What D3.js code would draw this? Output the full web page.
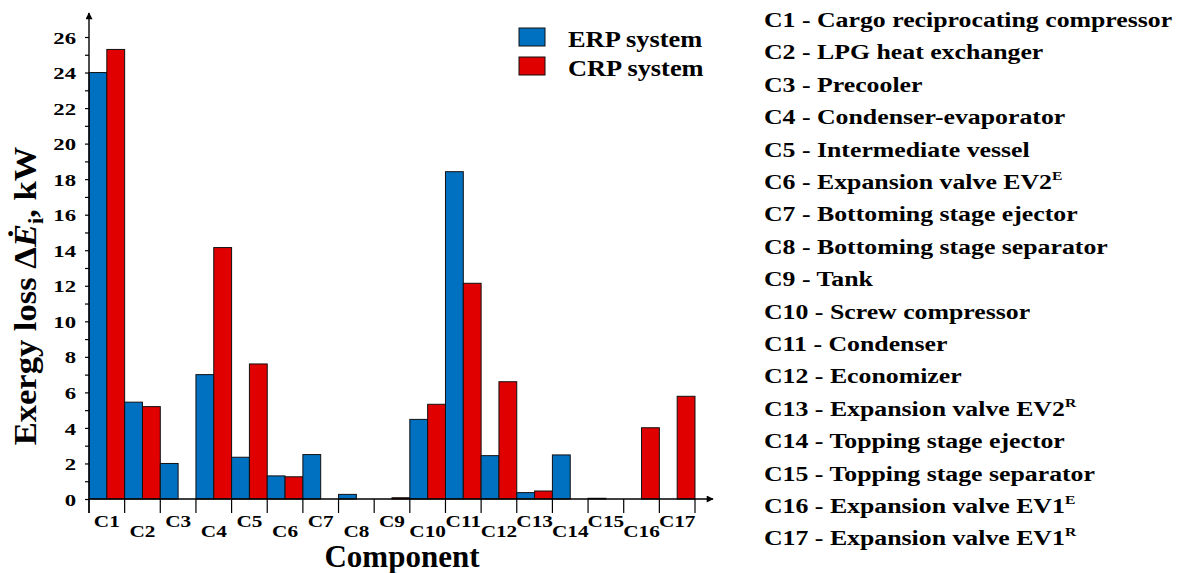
<!DOCTYPE html>
<html>
<head>
<meta charset="utf-8">
<script src="https://cdn.jsdelivr.net/npm/d3@7"></script>
<style>
  body { margin: 0; background: #fff; }
  text { font-family: "Liberation Serif", "Times New Roman", serif; font-weight: bold; fill: #000; }
</style>
</head>
<body>
<svg id="chart" width="1186" height="573"></svg>
<script>
// data
const categories = ["C1","C2","C3","C4","C5","C6","C7","C8","C9","C10","C11","C12","C13","C14","C15","C16","C17"];
const erpValues = [24.0, 5.45, 2.0, 7.0, 2.35, 1.3, 2.5, 0.26, 0, 4.48, 18.42, 2.44, 0.36, 2.48, 0.04, 0, 0];
const crpValues = [25.3, 5.2, 0, 14.15, 7.6, 1.25, 0, 0, 0.07, 5.33, 12.14, 6.6, 0.45, 0, 0, 4.01, 5.78];
const seriesNames = ["ERP system", "CRP system"];
const seriesColors = ["#0070c0", "#e00000"];
const yTickValues = d3.range(0, 27, 1);
// "^" marks a superscript
const componentNames = [
  "Cargo reciprocating compressor",
  "LPG heat exchanger",
  "Precooler",
  "Condenser-evaporator",
  "Intermediate vessel",
  "Expansion valve EV2^E",
  "Bottoming stage ejector",
  "Bottoming stage separator",
  "Tank",
  "Screw compressor",
  "Condenser",
  "Economizer",
  "Expansion valve EV2^R",
  "Topping stage ejector",
  "Topping stage separator",
  "Expansion valve EV1^E",
  "Expansion valve EV1^R"
];

const svg = d3.select("#chart");

const x = d3.scaleBand().domain(categories).range([89, 695]).padding(0);
const xs = d3.scaleBand().domain(seriesNames).range([0, x.bandwidth()]).padding(0);
const y = d3.scaleLinear().domain([0, 26]).range([499, 37]);

const data = categories.map((c, i) => ({
  cat: c,
  vals: [
    { s: seriesNames[0], v: erpValues[i] },
    { s: seriesNames[1], v: crpValues[i] }
  ]
}));

// arrow heads
svg.append("defs").append("marker")
    .attr("id", "arrow")
    .attr("viewBox", "0 0 10 10")
    .attr("refX", 9).attr("refY", 5)
    .attr("markerWidth", 10).attr("markerHeight", 7)
    .attr("markerUnits", "userSpaceOnUse")
    .attr("orient", "auto")
  .append("path")
    .attr("d", "M0,0 L10,5 L0,10 z")
    .attr("fill", "#000");

// bars
const groups = svg.append("g").selectAll("g")
  .data(data)
  .join("g")
    .attr("transform", d => "translate(" + x(d.cat) + ",0)");

groups.selectAll("rect")
  .data(d => d.vals)
  .join("rect")
    .attr("x", d => xs(d.s))
    .attr("y", d => y(d.v))
    .attr("width", xs.bandwidth())
    .attr("height", d => y(0) - y(d.v))
    .attr("fill", (d, i) => seriesColors[i])
    .attr("stroke", "#111")
    .attr("stroke-width", 1);

// y axis
const yAxis = d3.axisLeft(y)
  .tickValues(yTickValues)
  .tickSize(4)
  .tickFormat(d => d % 2 === 0 ? d : "");

const gy = svg.append("g")
    .attr("transform", "translate(" + x.range()[0] + ",0)")
    .call(yAxis);
gy.attr("font-family", null).attr("font-size", null);
gy.select(".domain").remove();
gy.selectAll(".tick line").attr("stroke", "#000").attr("stroke-width", 1.2);
gy.selectAll(".tick text")
    .attr("x", null)
    .attr("dy", "0.35em")
    .attr("transform", "translate(-13,0) scale(1.3,1)")
    .style("font-size", "17.5px");

// axis lines
svg.append("line")
    .attr("x1", x.range()[0]).attr("x2", x.range()[0])
    .attr("y1", y(0) + 14).attr("y2", 13)
    .attr("stroke", "#000").attr("stroke-width", 1.4)
    .attr("marker-end", "url(#arrow)");
svg.append("line")
    .attr("x1", x.range()[0]).attr("x2", 713)
    .attr("y1", y(0)).attr("y2", y(0))
    .attr("stroke", "#000").attr("stroke-width", 1.4)
    .attr("marker-end", "url(#arrow)");

// category boundary ticks
const bounds = categories.map(c => x(c)).concat([x.range()[1]]);
svg.append("g").selectAll("line")
  .data(bounds)
  .join("line")
    .attr("x1", d => d).attr("x2", d => d)
    .attr("y1", y(0)).attr("y2", y(0) + 14)
    .attr("stroke", "#000").attr("stroke-width", 1.2);

// staggered category labels
svg.append("g").selectAll("text")
  .data(categories)
  .join("text")
    .attr("text-anchor", "middle")
    .attr("transform", (d, i) => "translate(" + (x(d) + x.bandwidth() / 2) + "," + (i % 2 === 0 ? 527 : 537) + ") scale(1.25,1)")
    .style("font-size", "17px")
    .text(d => d);

// axis titles
svg.append("text")
    .attr("x", 402).attr("y", 567)
    .attr("text-anchor", "middle")
    .style("font-size", "31px")
    .text("Component");

const yl = svg.append("text")
    .attr("transform", "translate(36,296) rotate(-90) scale(1.08,1)")
    .attr("text-anchor", "middle")
    .style("font-size", "32px");
yl.append("tspan").text("Exergy loss \u0394");
yl.append("tspan").style("font-style", "italic").text("\u0116");
yl.append("tspan").attr("dy", 7).style("font-size", "21px").text("i");
yl.append("tspan").attr("dy", -7).text(", kW");

// legend
const legend = svg.append("g").selectAll("g")
  .data(seriesNames)
  .join("g")
    .attr("transform", (d, i) => "translate(519," + (28 + i * 29) + ")");
legend.append("rect")
    .attr("width", 26).attr("height", 18)
    .attr("fill", (d, i) => seriesColors[i])
    .attr("stroke", "#111").attr("stroke-width", 1);
legend.append("text")
    .attr("transform", "translate(49,18.5) scale(1.1,1)")
    .style("font-size", "24px")
    .text(d => d);

// component list on the right
const list = svg.append("g").selectAll("text")
  .data(componentNames)
  .join("text")
    .attr("transform", (d, i) => "translate(764," + (27 + i * 32.4) + ") scale(1.2,1)")
    .style("font-size", "21.5px");
list.each(function(d, i) {
  const t = d3.select(this);
  const parts = d.split("^");
  t.append("tspan").text(categories[i] + " - " + parts[0]);
  if (parts[1]) {
    t.append("tspan").attr("dy", -9).style("font-size", "13px").text(parts[1]);
  }
});
</script>
</body>
</html>
